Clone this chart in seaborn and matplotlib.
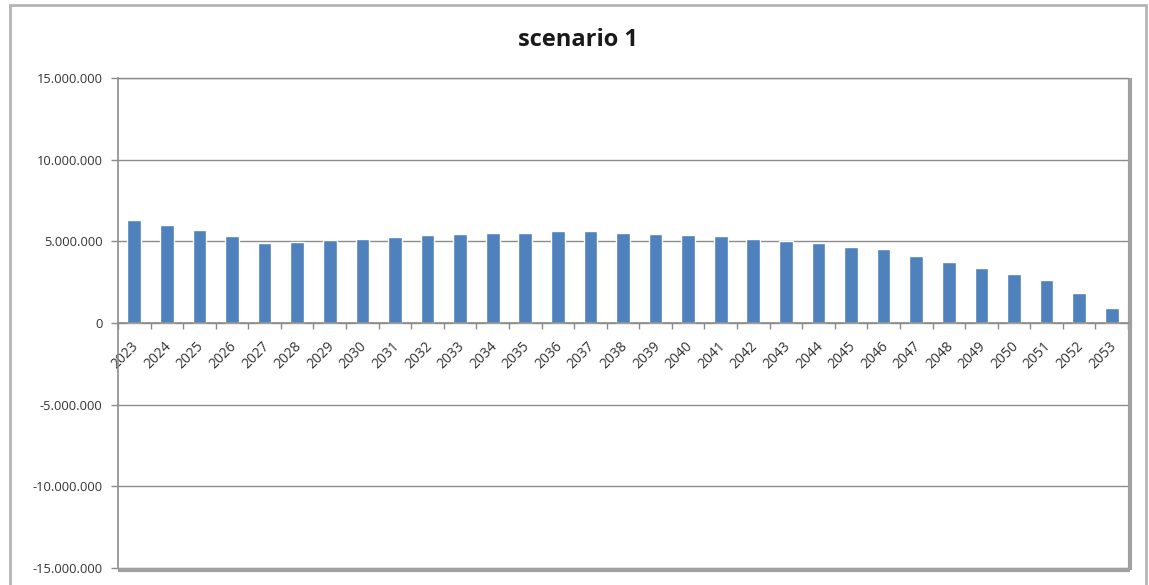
import matplotlib
matplotlib.use("Agg")
import matplotlib.pyplot as plt
import matplotlib.patches as mpatches
import seaborn as sns
import pandas as pd
import numpy as np
from matplotlib.ticker import FuncFormatter, FixedLocator

years = [str(y) for y in range(2023, 2054)]
values = [6300000, 6020000, 5670000, 5330000, 4880000, 4980000, 5090000, 5160000,
          5290000, 5410000, 5470000, 5530000, 5510000, 5630000, 5610000, 5510000,
          5450000, 5370000, 5330000, 5160000, 5000000, 4900000, 4670000, 4510000,
          4130000, 3760000, 3390000, 3010000, 2640000, 1830000, 930000]
title = "scenario 1"
y_ticks = [-15000000, -10000000, -5000000, 0, 5000000, 10000000, 15000000]

df = pd.DataFrame({"year": years, "value": values})

sns.set_theme(style="white")
plt.rcParams['font.family'] = ['Open Sans', 'DejaVu Sans']

fig = plt.figure(figsize=(11.49, 5.85), dpi=100)
frame = mpatches.Rectangle((10/1149, -0.05), 1136/1149, 1.0 - 5/585 + 0.05,
                           transform=fig.transFigure, fill=False,
                           edgecolor="#b4b4b4", linewidth=2.0, zorder=0)
fig.patches.append(frame)

ax = fig.add_axes([118/1149, 17/585, 1010/1149, 490/585])
sns.barplot(data=df, x="year", y="value", color="#4F81BD", width=0.42,
            saturation=1, ax=ax, zorder=3)

ax.set_ylim(-15000000, 15000000)
ax.set_xlim(-0.5, len(years) - 0.5)
ax.yaxis.set_major_locator(FixedLocator(y_ticks))
ax.yaxis.set_major_formatter(FuncFormatter(lambda v, p: f"{int(v):,}".replace(",", ".")))
ax.grid(axis="y", color="#8c8c8c", linewidth=1.0, zorder=0)
ax.grid(axis="x", visible=False)

for s in ["top", "right"]:
    ax.spines[s].set_visible(False)
ax.spines["left"].set_color("#8c8c8c")
ax.spines["left"].set_linewidth(1.2)
ax.spines["bottom"].set_position(("data", 0))
ax.spines["bottom"].set_color("#8c8c8c")
ax.spines["bottom"].set_linewidth(1.2)
ax.spines["bottom"].set_zorder(4)

shadow = dict(color="#a0a0a0", linewidth=3, solid_capstyle="butt",
              transform=ax.transAxes, clip_on=False, zorder=1)
ax.plot([1.002, 1.002], [-0.004, 1.0], **shadow)
ax.plot([0.0, 1.002], [-0.004, -0.004], **shadow)
ax.plot([0, 1], [1, 1], color="#8c8c8c", lw=1.0, transform=ax.transAxes, clip_on=False)

ax.tick_params(axis="y", which="major", left=True, length=5, width=1, color="#8c8c8c",
               labelsize=9.3, labelcolor="#333333", pad=6)
ax.tick_params(axis="x", which="major", bottom=False, labelsize=10,
               labelcolor="#333333", pad=2)
ax.set_xticks(range(len(years)))
ax.set_xticklabels(years, rotation=45, ha="right", rotation_mode="anchor")
ax.set_xticks(np.arange(-0.5, len(years), 1.0), minor=True)
ax.tick_params(axis="x", which="minor", bottom=True, length=4, width=1, color="#8c8c8c")
for lbl in ax.get_xticklabels():
    lbl.set_transform(lbl.get_transform() + matplotlib.transforms.ScaledTranslation(-3/100, -5/100, fig.dpi_scale_trans))

ax.set_xlabel("")
ax.set_ylabel("")
fig.text(578/1149, 1 - 40/585, title, ha="center", va="center",
         fontsize=17, fontweight="bold", color="#1a1a1a")

fig.savefig("out.png", dpi=100)
